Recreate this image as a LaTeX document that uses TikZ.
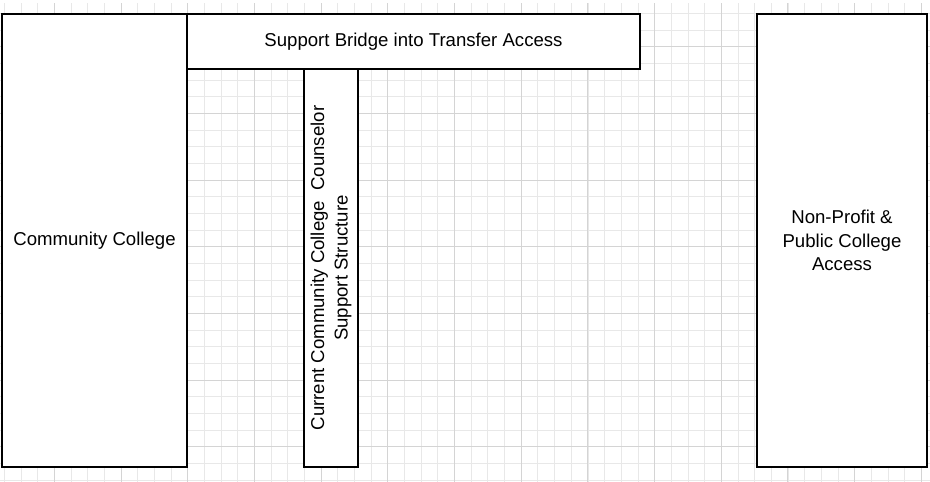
\documentclass[tikz,border=0pt]{standalone}
\usepackage{fontspec}
\setmainfont{Liberation Sans}
\usepackage{tikz}
\usetikzlibrary{positioning}
\tikzset{
  box/.style={rectangle, draw=black, line width=1.8pt, fill=white, inner sep=2pt, outer sep=0pt,
              align=center, font=\fontsize{18.6}{23.5}\selectfont},
  minorline/.style={draw=black!9, line width=0.9pt},
  majorline/.style={draw=black!17, line width=1pt},
}

\begin{document}
\begin{tikzpicture}[x=1pt, y=-1pt]
    \useasboundingbox (0,0) rectangle (930,482);
    % background grid
    \foreach \k in {0,...,55} {
      \pgfmathsetmacro{\gx}{4.6+16.667*\k}
      \draw[minorline] (\gx,3) -- (\gx,482);
    }
    \foreach \k in {0,...,28} {
      \pgfmathsetmacro{\gy}{13.3+16.667*\k}
      \draw[minorline] (0,\gy) -- (930,\gy);
    }
    \foreach \k in {0,...,13} {
      \pgfmathsetmacro{\gx}{54.6+66.667*\k}
      \draw[majorline] (\gx,3) -- (\gx,482);
    }
    \foreach \k in {0,...,6} {
      \pgfmathsetmacro{\gy}{46.7+66.667*\k}
      \draw[majorline] (0,\gy) -- (930,\gy);
    }
    % boxes
    \node[box, anchor=north west, minimum width=185pt, minimum height=453pt] (cc) at (2,14) {Community College};
    \node[box, anchor=north west, minimum width=453pt, minimum height=55pt] (bridge) at (cc.north east) {Support Bridge into Transfer Access};
    \node[box, anchor=north west, rotate=90, minimum width=398pt, minimum height=54pt] (couns) at (304,467) {Current Community College\ \ Counselor\\Support Structure};
    \node[box, anchor=north west, minimum width=170pt, minimum height=453pt] (access) at (757,14) {Non-Profit \&\\Public College\\Access};
  \end{tikzpicture}
\end{document}
